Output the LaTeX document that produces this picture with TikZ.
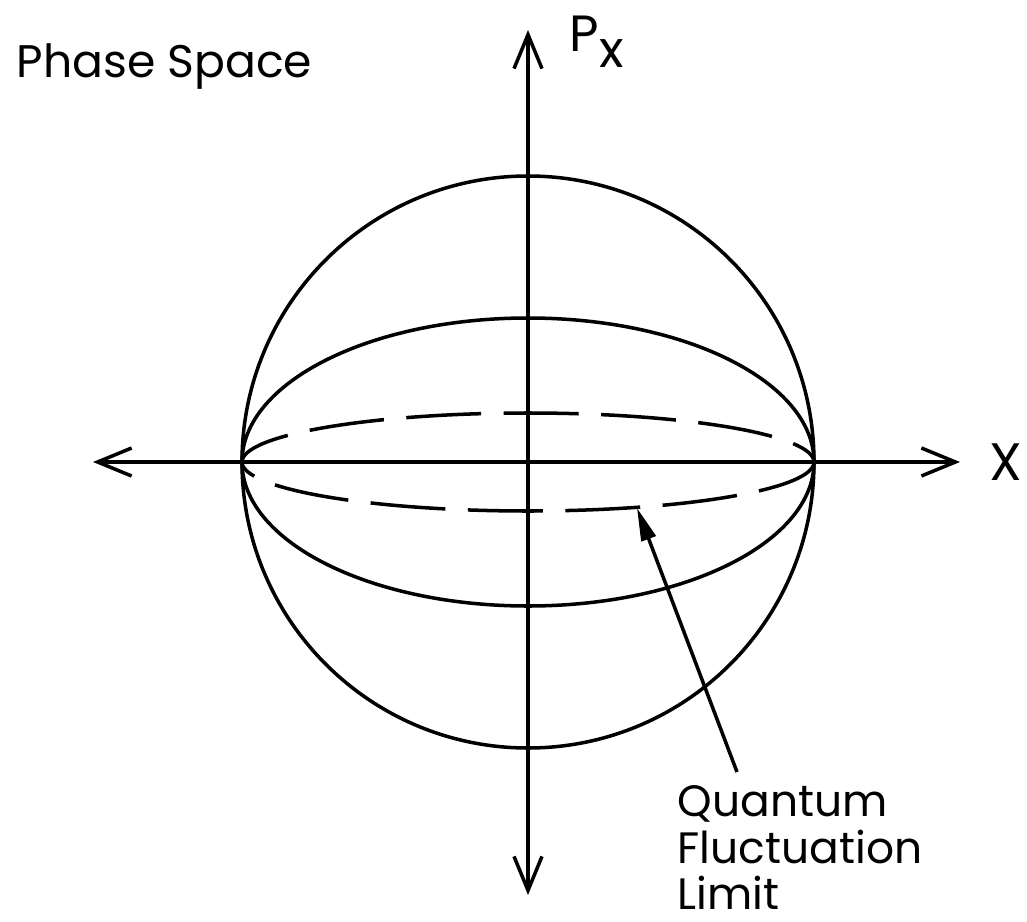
\documentclass[tikz,border=0pt]{standalone}
\usepackage{fontspec}
\setmainfont{Poppins}
\usetikzlibrary{arrows.meta, positioning}

\begin{document}
\begin{tikzpicture}[x=0.02cm, y=-0.02cm, line width=2pt, >={Straight Barb[length=0.68cm, width=0.56cm, line width=2pt]}]
    \useasboundingbox (0,0) rectangle (1027,922);

    % axes
    \coordinate (origin) at (528,462);
    \coordinate (xleft) at (93,462);
    \coordinate (xright) at (960,462);
    \coordinate (ptop) at (528,30);
    \coordinate (pbottom) at (528,895);
    \draw [<->] (xleft) -- (xright);
    \draw [<->] (pbottom) -- (ptop);

    % phase space areas
    \draw (origin) circle [radius=286];
    \draw (origin) ellipse [x radius=286, y radius=144];
    \draw [dash pattern=on 1.5cm off 0.45cm, dash phase=0.2cm] (origin) ellipse [x radius=286, y radius=49];

    % labels
    \node [anchor=base west, inner sep=0pt, font=\fontsize{26}{30}\selectfont] (title) at (15,78) {Phase Space};
    \node [anchor=base west, inner sep=0pt, font=\fontsize{29}{30}\selectfont] (plabel) at (568,52) {P\raisebox{-0.55ex}{x}};
    \node [anchor=west, inner sep=0pt, font=\fontsize{30}{30}\selectfont] (xlabel) at (988,462) {X};
    \node [anchor=north west, inner sep=0pt, align=left, font=\fontsize{25}{26.5}\selectfont] (qfl) at (676,784) {Quantum\\Fluctuation\\Limit};

    \coordinate (tail) at (737,772);
    \coordinate (tip) at (637,508);
    \draw [-{Triangle[length=0.66cm, width=0.3cm]}] (tail) -- (tip);
\end{tikzpicture}
\end{document}
